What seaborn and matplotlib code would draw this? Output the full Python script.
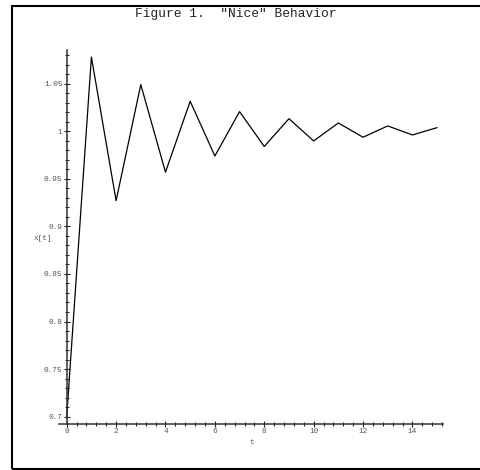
import matplotlib
matplotlib.use("Agg")
import matplotlib.pyplot as plt
from matplotlib.ticker import MultipleLocator, FuncFormatter
from matplotlib.patches import Rectangle
import seaborn as sns
import pandas as pd

t_values = [0, 1, 2, 3, 4, 5, 6, 7, 8, 9, 10, 11, 12, 13, 14, 15]
x_values = [0.700, 1.078, 0.927, 1.049, 0.957, 1.0315, 0.974, 1.0206,
            0.984, 1.0132, 0.9898, 1.0087, 0.9937, 1.0056, 0.9961, 1.0038]
title_text = 'Figure 1.  "Nice" Behavior'
x_label = "t"
y_label = "x[t]"

df = pd.DataFrame({"t": t_values, "x": x_values})

sns.set_style("white")
plt.rcParams["font.family"] = ["Liberation Mono", "DejaVu Sans Mono"]

W, H = 481, 470
fig = plt.figure(figsize=(W / 100, H / 100), dpi=100)
left, right, top, bottom = 59.3, 443.3, 50.0, 423.7
ax = fig.add_axes([left / W, 1 - bottom / H, (right - left) / W, (bottom - top) / H])

sns.lineplot(data=df, x="t", y="x", ax=ax, color="black", linewidth=0.9)

ax.set_xlim(-0.3, 15.25)
ax.set_ylim(0.6926, 1.0854)

for s in ["top", "right"]:
    ax.spines[s].set_visible(False)
ax.spines["left"].set_position(("data", 0))
for s in ["left", "bottom"]:
    ax.spines[s].set_color("#333333")
    ax.spines[s].set_linewidth(1.1)

ax.xaxis.set_major_locator(MultipleLocator(2))
ax.xaxis.set_minor_locator(MultipleLocator(0.4))
ax.yaxis.set_major_locator(MultipleLocator(0.05))
ax.yaxis.set_minor_locator(MultipleLocator(0.01))
ax.yaxis.set_major_formatter(FuncFormatter(lambda v, p: f"{v:g}"))
ax.xaxis.set_major_formatter(FuncFormatter(lambda v, p: f"{v:g}"))

ax.tick_params(axis="both", which="major", direction="inout", length=4.5, width=0.8,
               color="#222222", labelsize=5.6, labelcolor="#555555", pad=0.8,
               bottom=True, left=True)
ax.tick_params(axis="both", which="minor", direction="inout", length=3.0, width=0.8,
               color="#222222", bottom=True, left=True)

ax.set_xlabel(x_label, fontsize=5.6, color="#555555", labelpad=3)
ax.set_ylabel(y_label, fontsize=5.6, color="#555555", rotation=0, labelpad=0)
ax.yaxis.set_label_coords(-0.005, 0.5, transform=ax.transAxes)
ax.yaxis.label.set_horizontalalignment("right")
ax.yaxis.label.set_verticalalignment("center")
ax.yaxis.set_label_coords((52 - left) / (right - left), 1 - (238 - top) / (bottom - top))

fig.text(236 / W, 1 - 14 / H, title_text, ha="center", va="center",
         fontsize=9.3, color="#222222")

fig.patches.append(Rectangle((12 / W, 1 - 468.5 / H), 1.2, (468.5 - 5.5) / H,
                             transform=fig.transFigure, fill=False,
                             edgecolor="black", linewidth=1.5))

fig.savefig("out.png", dpi=100)
